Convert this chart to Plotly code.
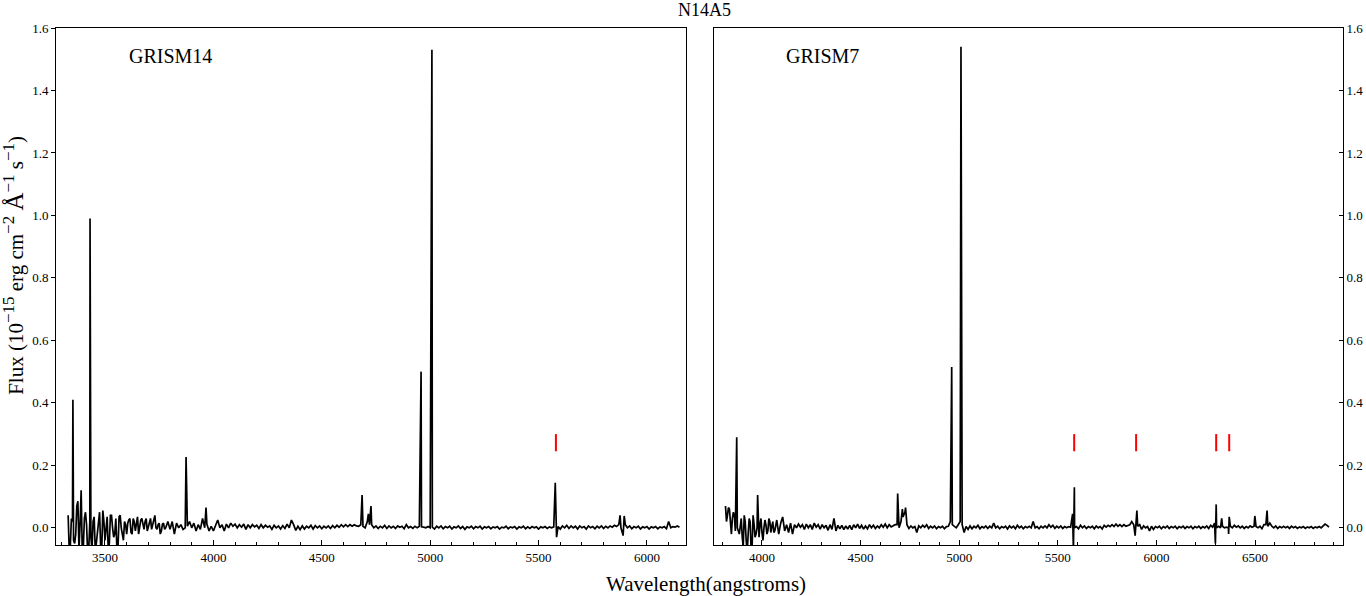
import plotly.graph_objects as go
from plotly.subplots import make_subplots

# ---------------- DATA ----------------
# GRISM14 continuum samples: rows of 10 values, 10 Angstrom apart, keyed by row start
g14_rows = {
    3330: [0.04, -0.06, 0.02, -0.05, 0.07, -0.07, 0.12, -0.06, 0.05, -0.08],
    3430: [0.02, -0.07, 0.035, -0.05, 0.03, -0.06, 0.055, -0.04, 0.035, -0.05],
    3530: [0.04, -0.03, 0.03, -0.06, 0.04, -0.03, 0.02, -0.02, 0.025, -0.015],
    3630: [0.03, -0.01, 0.035, 0.0, 0.03, -0.005, 0.03, 0.005, 0.03, 0.01],
    3730: [0.04, -0.005, 0.015, -0.01, 0.015, 0.0, 0.02, -0.005, 0.02, -0.02],
    3830: [0.015, 0.0, 0.01, -0.005, 0.0, 0.005, 0.02, 0.0, 0.015, -0.01],
    3930: [0.01, -0.005, 0.03, 0.0, 0.012, -0.01, 0.005, -0.01, 0.01, 0.025],
    4030: [0.0, 0.01, -0.01, 0.012, 0.0, 0.015, 0.005, 0.012, 0.0, 0.01],
    4130: [0.002, 0.012, -0.005, 0.01, 0.0, 0.01, 0.003, 0.008, -0.002, 0.01],
    4230: [0.0, 0.008, 0.002, 0.006, -0.005, 0.008, 0.0, 0.006, -0.004, 0.007],
    4330: [-0.002, 0.012, 0.0, 0.025, 0.01, -0.008, 0.005, -0.006, 0.006, -0.004],
    4430: [0.005, 0.0, 0.008, -0.004, 0.007, 0.0, 0.006, -0.003, 0.005, 0.0],
    4530: [0.006, -0.002, 0.007, 0.0, 0.008, 0.002, 0.01, 0.003, 0.01, 0.004],
    4630: [0.01, 0.005, 0.01, 0.006, 0.005, 0.01, 0.005, 0.0, 0.02, 0.01],
    4730: [0.01, 0.0, 0.006, -0.002, 0.005, 0.0, 0.008, -0.002, 0.006, 0.0],
    4830: [0.005, -0.002, 0.006, 0.002, 0.005, -0.003, 0.01, 0.0, 0.004, -0.002],
    4930: [0.005, 0.0, 0.005, 0.003, 0.002, 0.0, 0.004, 0.0, 0.002, -0.004],
    5030: [0.005, 0.0, 0.006, -0.003, 0.004, 0.0, 0.005, -0.004, 0.003, 0.0],
    5130: [0.006, -0.002, 0.004, -0.005, 0.003, 0.0, 0.005, -0.003, 0.004, 0.0],
    5230: [0.005, -0.004, 0.003, 0.0, 0.004, -0.003, 0.003, 0.0, 0.004, -0.004],
    5330: [0.002, 0.0, 0.005, -0.003, 0.003, 0.0, 0.004, -0.004, 0.003, 0.0],
    5430: [0.005, -0.003, 0.003, -0.002, 0.004, 0.0, 0.003, -0.004, 0.003, 0.0],
    5530: [0.004, -0.002, 0.003, 0.0, 0.003, 0.003, 0.004, -0.004, 0.006, 0.0],
    5630: [0.008, -0.002, 0.006, 0.0, 0.005, -0.004, 0.006, 0.0, 0.004, -0.004],
    5730: [0.006, 0.0, 0.004, -0.003, 0.005, 0.0, 0.006, -0.002, 0.005, 0.0],
    5830: [0.006, 0.002, 0.008, 0.004, 0.01, 0.0, -0.025, 0.01, 0.0, 0.006],
    5930: [-0.003, 0.004, 0.0, 0.005, -0.004, 0.003, 0.0, 0.004, -0.004, 0.003],
    6030: [0.0, 0.004, -0.003, 0.003, 0.0, 0.004, -0.003, 0.02, 0.0, 0.004],
    6130: [0.002, 0.006, 0.002],
}
# extra samples filling the noisy blue end
g14_blue_wave = [3335, 3345, 3355, 3365, 3375, 3385, 3395, 3405, 3415, 3425, 3435, 3445,
                 3455, 3465, 3475, 3485, 3495, 3505, 3515, 3525, 3535, 3545, 3555, 3565,
                 3575, 3585, 3595, 3605, 3615, 3625, 3635, 3645, 3655, 3665, 3675, 3685,
                 3695, 3705, 3715, 3725, 3735, 3745, 3755, 3765, 3775, 3785]
g14_blue_flux = [-0.07, 0.03, -0.04, -0.02, 0.085, 0.01, -0.07, 0.03, 0.01, -0.07, -0.03, 0.02,
                 -0.07, -0.01, 0.05, -0.07, 0.02, 0.01, -0.07, 0.04, 0.0, -0.02, -0.07, 0.035,
                 0.0, -0.04, 0.01, 0.015, 0.03, -0.02, 0.02, 0.01, -0.02, 0.025, 0.015, 0.02,
                 -0.01, 0.02, -0.005, 0.025, 0.0, 0.01, -0.02, 0.012, -0.005, 0.01]
g14_line_wave = [3352, 3431, 3874, 3966, 4686, 4715, 4727, 4958, 5008, 5577, 5583, 5876, 5895]
g14_line_flux = [0.41, 0.99, 0.227, 0.065, 0.105, 0.045, 0.07, 0.50, 1.53, 0.144, -0.03, 0.04, 0.038]

# GRISM7 continuum samples
g7_rows = {
    3815: [0.07, 0.04, 0.06, -0.02, 0.05, -0.01, 0.0, -0.02, 0.03, -0.06],
    3915: [0.02, -0.08, 0.03, -0.07, 0.04, -0.03, 0.0, -0.03, 0.03, -0.04],
    4015: [0.025, -0.02, 0.03, -0.015, 0.02, -0.01, 0.025, -0.02, 0.015, 0.035],
    4115: [-0.01, 0.01, -0.015, 0.015, -0.02, 0.01, 0.0, 0.012, 0.002, 0.01],
    4215: [-0.005, 0.012, 0.0, 0.01, -0.005, 0.015, 0.002, 0.01, -0.004, 0.01],
    4315: [0.0, 0.008, -0.008, 0.01, -0.005, 0.03, -0.01, 0.008, -0.003, 0.008],
    4415: [-0.006, 0.006, -0.004, 0.008, -0.006, 0.01, 0.0, 0.012, -0.002, 0.008],
    4515: [-0.004, 0.006, -0.003, 0.01, 0.0, 0.008, -0.002, 0.006, 0.0, 0.01],
    4615: [0.002, 0.012, 0.0, 0.01, 0.003, 0.006, 0.01, 0.01, 0.0, 0.02],
    4715: [0.035, 0.05, 0.01, -0.002, 0.006, 0.0, 0.004, -0.015, 0.006, 0.0],
    4815: [0.008, 0.002, 0.01, -0.002, 0.005, 0.0, 0.006, -0.003, 0.004, 0.0],
    4915: [0.005, -0.003, 0.004, 0.005, 0.02, 0.01, 0.005, 0.0, 0.01, 0.02],
    5015: [0.01, -0.015, 0.004, -0.005, 0.006, -0.003, 0.005, 0.0, 0.008, -0.003],
    5115: [0.004, 0.0, 0.006, -0.002, 0.005, 0.0, 0.015, 0.0, 0.005, -0.003],
    5215: [0.004, 0.0, 0.005, -0.004, 0.006, 0.0, 0.005, -0.003, 0.008, 0.0],
    5315: [0.005, -0.003, 0.004, 0.0, 0.005, 0.0, 0.02, 0.0, 0.004, -0.003],
    5415: [0.005, 0.0, 0.006, 0.0, 0.01, 0.002, 0.008, -0.002, 0.005, 0.0],
    5515: [0.006, -0.002, 0.004, 0.0, 0.004, 0.002, 0.045, 0.0, 0.004, -0.003],
    5615: [0.008, 0.0, 0.006, -0.002, 0.004, 0.0, 0.005, -0.003, 0.006, 0.0],
    5715: [0.004, -0.004, 0.008, 0.002, 0.008, 0.004, 0.01, 0.004, 0.012, 0.005],
    5815: [0.01, 0.004, 0.01, 0.005, 0.008, 0.01, 0.02, 0.01, 0.01, 0.005],
    5915: [0.01, -0.005, 0.006, 0.0, 0.004, -0.01, 0.005, -0.005, 0.004, 0.0],
    6015: [0.005, -0.003, 0.004, 0.0, 0.006, -0.002, 0.004, 0.0, 0.005, -0.003],
    6115: [0.004, 0.0, 0.005, -0.002, 0.004, 0.0, 0.005, -0.003, 0.004, 0.0],
    6215: [0.005, -0.002, 0.004, 0.0, 0.006, -0.002, 0.008, 0.002, 0.015, 0.0],
    6315: [0.005, 0.0, 0.005, 0.0, 0.002, 0.0, 0.005, 0.0, 0.008, 0.002],
    6415: [0.006, 0.0, 0.005, -0.002, 0.004, 0.0, 0.006, 0.002, 0.005, 0.004],
    6515: [0.0, 0.005, -0.003, 0.01, 0.01, 0.005, 0.015, 0.005, 0.0, 0.006],
    6615: [-0.002, 0.004, 0.0, 0.005, 0.0, 0.004, -0.002, 0.005, 0.0, 0.004],
    6715: [-0.002, 0.003, 0.0, 0.004, -0.002, 0.003, 0.0, 0.004, -0.002, 0.003],
    6815: [0.0, 0.004, 0.0, 0.005, 0.012, 0.008, 0.002],
}
g7_blue_wave = [3820, 3830, 3840, 3850, 3860, 3890, 3900, 3910, 3920, 3930, 3940, 3950,
                3960, 3970, 3990, 4000, 4010, 4020, 4030, 4040, 4050, 4060]
g7_blue_flux = [0.02, 0.065, 0.0, 0.03, 0.04, 0.01, -0.03, 0.04, -0.04, -0.02, 0.02, -0.06,
                0.01, -0.02, 0.01, -0.015, 0.0, 0.01, -0.01, 0.02, 0.005, -0.015]
g7_line_wave = [3872, 3978, 4688, 4712, 4728, 4962, 5009, 5579, 5584, 5892, 5901,
                6299, 6303, 6331, 6366, 6369, 6499, 6561]
g7_line_flux = [0.29, 0.105, 0.11, 0.06, 0.065, 0.515, 1.54, -0.07, 0.13, -0.025, 0.055,
                -0.05, 0.075, 0.03, -0.02, 0.035, 0.038, 0.055]

# sky-line markers (red ticks)
g14_sky = [5580]
g7_sky = [5583, 5897, 6303, 6369]
sky_lo, sky_hi = 0.245, 0.30

panel_labels = ["GRISM14", "GRISM7"]
x_ranges = [[3274, 6180], [3757, 6946]]
y_range = [-0.055, 1.6]
x_ticks = [[3500, 4000, 4500, 5000, 5500, 6000], [4000, 4500, 5000, 5500, 6000, 6500]]
y_ticks = [0.0, 0.2, 0.4, 0.6, 0.8, 1.0, 1.2, 1.4, 1.6]


def build(rows, bw, bf, lw, lf):
    pts = []
    for start, vals in rows.items():
        for j, v in enumerate(vals):
            pts.append((start + 10 * j, v))
    pts += list(zip(bw, bf))
    pts += list(zip(lw, lf))
    pts.sort(key=lambda p: p[0])
    return [p[0] for p in pts], [p[1] for p in pts]


FONT = "Liberation Serif"

fig = make_subplots(rows=1, cols=2, horizontal_spacing=0.0218)
fig.update_layout(xaxis=dict(domain=[0, 0.4895]), xaxis2=dict(domain=[0.5113, 1.0]))

panels = [(g14_rows, g14_blue_wave, g14_blue_flux, g14_line_wave, g14_line_flux, g14_sky),
          (g7_rows, g7_blue_wave, g7_blue_flux, g7_line_wave, g7_line_flux, g7_sky)]
for i, (rows, bw, bf, lw, lf, sky) in enumerate(panels):
    x, y = build(rows, bw, bf, lw, lf)
    fig.add_trace(go.Scatter(x=x, y=y, mode="lines", line=dict(color="black", width=1.7),
                             showlegend=False, hoverinfo="skip"), row=1, col=i + 1)
    sx, sy = [], []
    for s in sky:
        sx += [s, s, None]
        sy += [sky_lo, sky_hi, None]
    fig.add_trace(go.Scatter(x=sx, y=sy, mode="lines", line=dict(color="red", width=2),
                             showlegend=False, hoverinfo="skip"), row=1, col=i + 1)

axis_common = dict(showline=True, linecolor="black", linewidth=1, mirror=True,
                   showgrid=False, zeroline=False, automargin=False,
                   tickfont=dict(family=FONT, size=13, color="black"))

for i in range(2):
    fig.update_xaxes(range=x_ranges[i], tickvals=x_ticks[i], ticks="inside", ticklen=5,
                     tickcolor="black",
                     minor=dict(dtick=100, ticks="inside", ticklen=3, tickcolor="black"),
                     row=1, col=i + 1, **axis_common)

fig.update_yaxes(range=y_range, tickvals=y_ticks, tickformat=".1f", ticks="outside",
                 ticklen=4, tickcolor="black", row=1, col=1, **axis_common)
fig.update_yaxes(range=y_range, tickvals=y_ticks, tickformat=".1f", ticks="inside",
                 ticklen=4, tickcolor="black", side="right", row=1, col=2, **axis_common)

for i, lab in enumerate(panel_labels):
    xr = "x domain" if i == 0 else "x2 domain"
    yr = "y domain" if i == 0 else "y2 domain"
    fig.add_annotation(text=lab, xref=xr, yref=yr, x=0.112, y=0.945, xanchor="left",
                       yanchor="middle", showarrow=False,
                       font=dict(family=FONT, size=20, color="black"))

fig.add_annotation(text="N14A5", xref="paper", yref="paper", x=0.504, y=1.035,
                   xanchor="center", yanchor="middle", showarrow=False,
                   font=dict(family=FONT, size=18, color="black"))
fig.add_annotation(text="Wavelength(angstroms)", xref="paper", yref="paper", x=0.505,
                   y=-0.0754, xanchor="center", yanchor="middle", showarrow=False,
                   font=dict(family=FONT, size=21, color="black"))
sup = "<sup><span style='font-size:17px'>{}</span></sup>"
ytitle = ("Flux (10" + sup.format("\u221215") + " erg cm" + sup.format("\u22122")
          + " <span style='font-size:25px'>\u00c5</span>" + sup.format("\u22121")
          + " s" + sup.format("\u22121") + ")")
fig.add_annotation(text=ytitle,
                   xref="paper", yref="paper", x=-0.0326, y=0.54, textangle=-90,
                   xanchor="center", yanchor="middle", showarrow=False,
                   font=dict(family=FONT, size=21, color="black"))

fig.update_layout(width=1366, height=596, margin=dict(l=56, r=23, t=28, b=51),
                  plot_bgcolor="white", paper_bgcolor="white")

fig.write_html("out.html", config={"displayModeBar": False},
               post_script="document.body.style.margin='0';")
